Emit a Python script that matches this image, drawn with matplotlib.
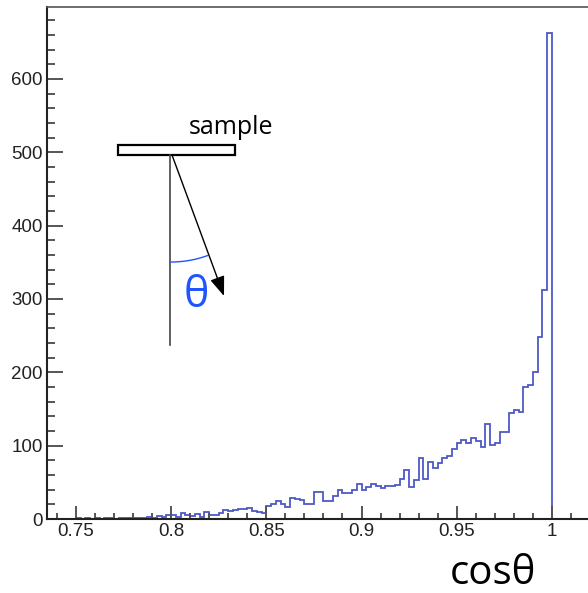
import numpy as np
import matplotlib
matplotlib.use("Agg")
import matplotlib.pyplot as plt
from matplotlib.patches import Rectangle
from matplotlib.ticker import MultipleLocator

# histogram of cos(theta), bin width 0.0025 from 0.735 to 1.02
bin_lo = 0.735
bin_w = 0.0025
counts = [
    0, 0, 0, 0, 0, 0, 1, 0, 1, 0,                      # 0.735 - 0.76
    1, 0, 1, 1, 0, 2, 1, 1,                            # 0.76 - 0.78
    2, 1, 2, 3, 2, 4, 3, 5,                            # 0.78 - 0.80
    6, 3, 8, 5, 4, 7, 3, 9, 6, 5, 8, 12,               # 0.80 - 0.83
    11, 12, 13, 13, 15, 11, 9, 8, 18, 21, 24, 21, 17, 28,
    27, 26, 20, 20, 37, 37, 24, 25, 31, 39, 35, 35, 39, 48,   # 0.83 - 0.90
    40, 44, 48, 45, 42, 45, 45, 46, 54, 67, 44, 53,   # 0.90 - 0.93
    83, 54, 78, 69, 77, 83, 86, 95, 104, 108, 104, 110, 106, 98,
    130, 101, 103, 119, 118, 145, 148, 146, 180, 182, 200, 248, 312,  # 0.93 - 0.9975
    663,                                               # 0.9975 - 1.0
    0, 0, 0, 0, 0, 0, 0, 0,                            # 1.0 - 1.02
]
edges = np.round(bin_lo + bin_w * np.arange(len(counts) + 1), 4)

xticks = [0.75, 0.8, 0.85, 0.9, 0.95, 1.0]
xtick_labels = ["0.75", "0.8", "0.85", "0.9", "0.95", "1"]
yticks = [0, 100, 200, 300, 400, 500, 600]

W, H = 588, 593
fig = plt.figure(figsize=(W / 100, H / 100), dpi=100)

# main axes (right edge runs just past the image, like the cropped original)
left, right, top, bottom = 47, 590, 7, 519
ax = fig.add_axes([left / W, (H - bottom) / H, (right - left) / W, (bottom - top) / H])
ax.stairs(counts, edges, color="#4e58c6", lw=1.3)
ax.set_xlim(0.7348, 1.0200)
ax.set_ylim(0, 698)

ax.set_xticks(xticks)
ax.set_xticklabels(xtick_labels)
ax.set_yticks(yticks)
ax.xaxis.set_minor_locator(MultipleLocator(0.01))
ax.yaxis.set_minor_locator(MultipleLocator(20))
ax.tick_params(which="both", direction="in", colors="#555555", width=1.4,
               labelcolor="#222222", labelsize=13.5, labelfontfamily="Liberation Sans")
ax.tick_params(axis="y", which="major", length=11.5, pad=3)
ax.tick_params(axis="y", which="minor", length=5.5)
ax.tick_params(axis="x", which="major", length=9.5, pad=3)
ax.tick_params(axis="x", which="minor", length=4.5)
ax.tick_params(top=False, right=False)
for side in ["left", "bottom"]:
    ax.spines[side].set_color("#222222")
    ax.spines[side].set_linewidth(1.5)
ax.spines["top"].set_color("#555555")
ax.spines["top"].set_linewidth(1.2)
ax.spines["right"].set_visible(False)

fig.text(493 / W, 1 - 574 / H, "cosθ", ha="center", va="center",
         fontsize=29, family=["Open Sans", "DejaVu Sans"], color="black")

# sketch of the geometry, drawn in pixel coordinates on an overlay
ov = fig.add_axes([0, 0, 1, 1])
ov.set_xlim(0, W)
ov.set_ylim(H, 0)
ov.axis("off")

ov.add_patch(Rectangle((118, 145), 117, 10, facecolor="white",
                       edgecolor="black", lw=1.6))
ov.plot([170, 170], [155, 345], color="#444444", lw=1.2)
ov.annotate("", xy=(224, 296), xytext=(172, 155),
            arrowprops=dict(arrowstyle="-|>,head_length=1.2,head_width=0.45",
                            color="black", lw=1.0, shrinkA=0, shrinkB=0))
t = np.radians(np.linspace(70, 90, 30))
ov.plot(171 + 107 * np.cos(t), 155 + 107 * np.sin(t), color="#1f55ff", lw=1.0)
ov.text(231, 128, "sample", ha="center", va="center", fontsize=18,
        family=["Open Sans", "DejaVu Sans"], color="black")
ov.text(196, 296, "θ", ha="center", va="center", fontsize=31,
        family=["Open Sans", "DejaVu Sans"], color="#1f55ff")

fig.savefig("out.png", dpi=100)
